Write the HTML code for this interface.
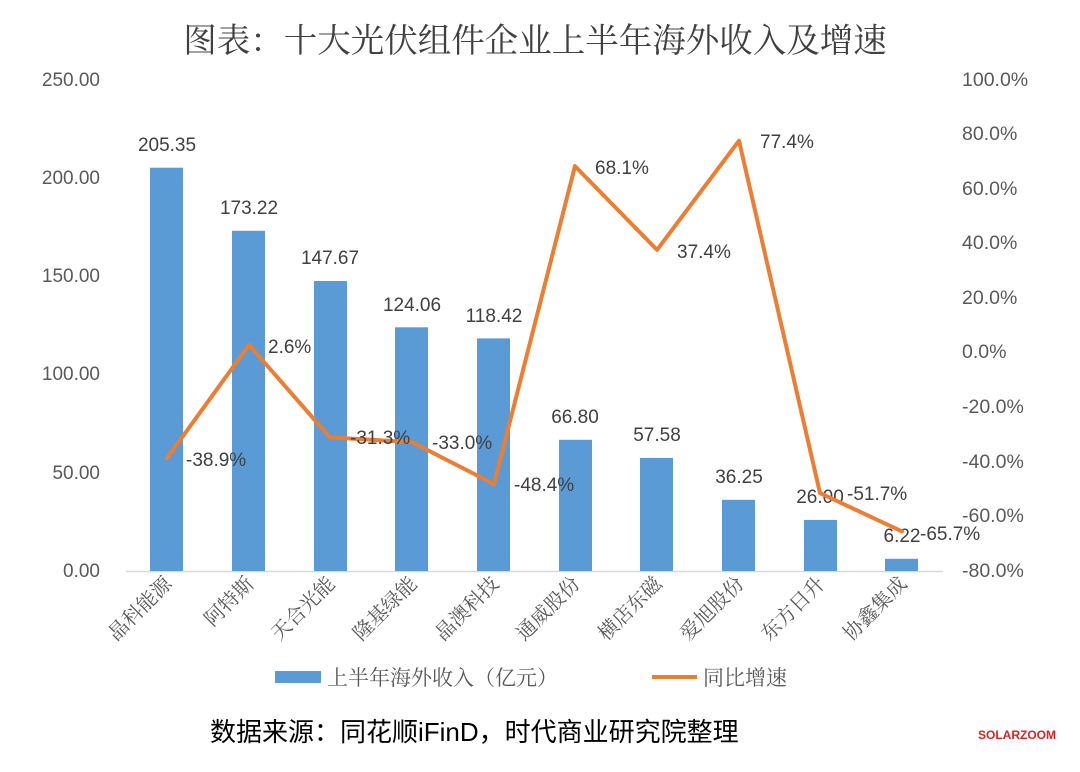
<!DOCTYPE html>
<html><head><meta charset="utf-8"><style>
body{margin:0;background:#fff}
svg text{font-family:"Liberation Sans","Noto Sans CJK SC",sans-serif}
svg text.s{font-family:"Liberation Serif","Noto Serif CJK SC",serif}
</style></head><body>
<svg width="1080" height="767" viewBox="0 0 1080 767">
<text class="s" x="535" y="52" text-anchor="middle" font-size="33.5" fill="#404040">图表：十大光伏组件企业上半年海外收入及增速</text>
<g font-size="19" fill="#595959">
<text x="100" y="86" text-anchor="end">250.00</text>
<text x="100" y="184" text-anchor="end">200.00</text>
<text x="100" y="282" text-anchor="end">150.00</text>
<text x="100" y="380" text-anchor="end">100.00</text>
<text x="100" y="479" text-anchor="end">50.00</text>
<text x="100" y="577" text-anchor="end">0.00</text>
</g>
<g font-size="19.5" fill="#595959">
<text x="962" y="86">100.0%</text>
<text x="962" y="140">80.0%</text>
<text x="962" y="195">60.0%</text>
<text x="962" y="249">40.0%</text>
<text x="962" y="304">20.0%</text>
<text x="962" y="358">0.0%</text>
<text x="962" y="413">-20.0%</text>
<text x="962" y="468">-40.0%</text>
<text x="962" y="522">-60.0%</text>
<text x="962" y="577">-80.0%</text>
</g>
<line x1="126" y1="571.5" x2="943" y2="571.5" stroke="#d9d9d9" stroke-width="1.5"/>
<g fill="#5b9bd5">
<rect x="150" y="167.7" width="33" height="403.3"/>
<rect x="232" y="230.8" width="33" height="340.2"/>
<rect x="314" y="281" width="33" height="290"/>
<rect x="395" y="327.3" width="33" height="243.7"/>
<rect x="477" y="338.4" width="33" height="232.6"/>
<rect x="559" y="439.8" width="33" height="131.2"/>
<rect x="640" y="457.9" width="33" height="113.1"/>
<rect x="722" y="499.8" width="33" height="71.2"/>
<rect x="804" y="519.9" width="33" height="51.1"/>
<rect x="885" y="558.8" width="33" height="12.2"/>
</g>
<g font-size="19" fill="#404040" text-anchor="middle">
<text x="167" y="151">205.35</text>
<text x="249" y="214">173.22</text>
<text x="330" y="264">147.67</text>
<text x="412" y="311">124.06</text>
<text x="494" y="322">118.42</text>
<text x="575" y="423">66.80</text>
<text x="657" y="441">57.58</text>
<text x="739" y="483">36.25</text>
<text x="820" y="503">26.00</text>
<text x="902" y="542">6.22</text>
</g>
<polyline fill="none" stroke="#ed7d31" stroke-width="4" stroke-linejoin="round" stroke-linecap="round" points="167,458.2 249,344.9 330,437.4 412,442.1 494,484.1 575,166.1 657,249.9 739,140.7 820,493.1 902,531.4"/>
<g font-size="19" fill="#404040">
<text x="186" y="466">-38.9%</text>
<text x="268" y="353">2.6%</text>
<text x="350" y="444">-31.3%</text>
<text x="432" y="449">-33.0%</text>
<text x="514" y="491">-48.4%</text>
<text x="595" y="174">68.1%</text>
<text x="677" y="258">37.4%</text>
<text x="760" y="148">77.4%</text>
<text x="847" y="500">-51.7%</text>
<text x="920" y="540">-65.7%</text>
</g>
<g font-size="20" fill="#595959" text-anchor="end">
<text class="s" transform="translate(173,585) rotate(-45)">晶科能源</text>
<text class="s" transform="translate(255,585) rotate(-45)">阿特斯</text>
<text class="s" transform="translate(336,585) rotate(-45)">天合光能</text>
<text class="s" transform="translate(418,585) rotate(-45)">隆基绿能</text>
<text class="s" transform="translate(500,585) rotate(-45)">晶澳科技</text>
<text class="s" transform="translate(581,585) rotate(-45)">通威股份</text>
<text class="s" transform="translate(663,585) rotate(-45)">横店东磁</text>
<text class="s" transform="translate(745,585) rotate(-45)">爱旭股份</text>
<text class="s" transform="translate(826,585) rotate(-45)">东方日升</text>
<text class="s" transform="translate(908,585) rotate(-45)">协鑫集成</text>
</g>
<rect x="275" y="671" width="46" height="12" fill="#5b9bd5"/>
<text class="s" x="327" y="685" font-size="21" fill="#595959">上半年海外收入（亿元）</text>
<line x1="652" y1="677" x2="697" y2="677" stroke="#ed7d31" stroke-width="4"/>
<text class="s" x="703" y="685" font-size="21" fill="#595959">同比增速</text>
<text x="210" y="741" font-size="26" fill="#000">数据来源：同花顺iFinD，时代商业研究院整理</text>
<text x="978" y="739" font-size="12" fill="#e02020" font-weight="bold">SOLARZOOM</text>
</svg>
</body></html>
